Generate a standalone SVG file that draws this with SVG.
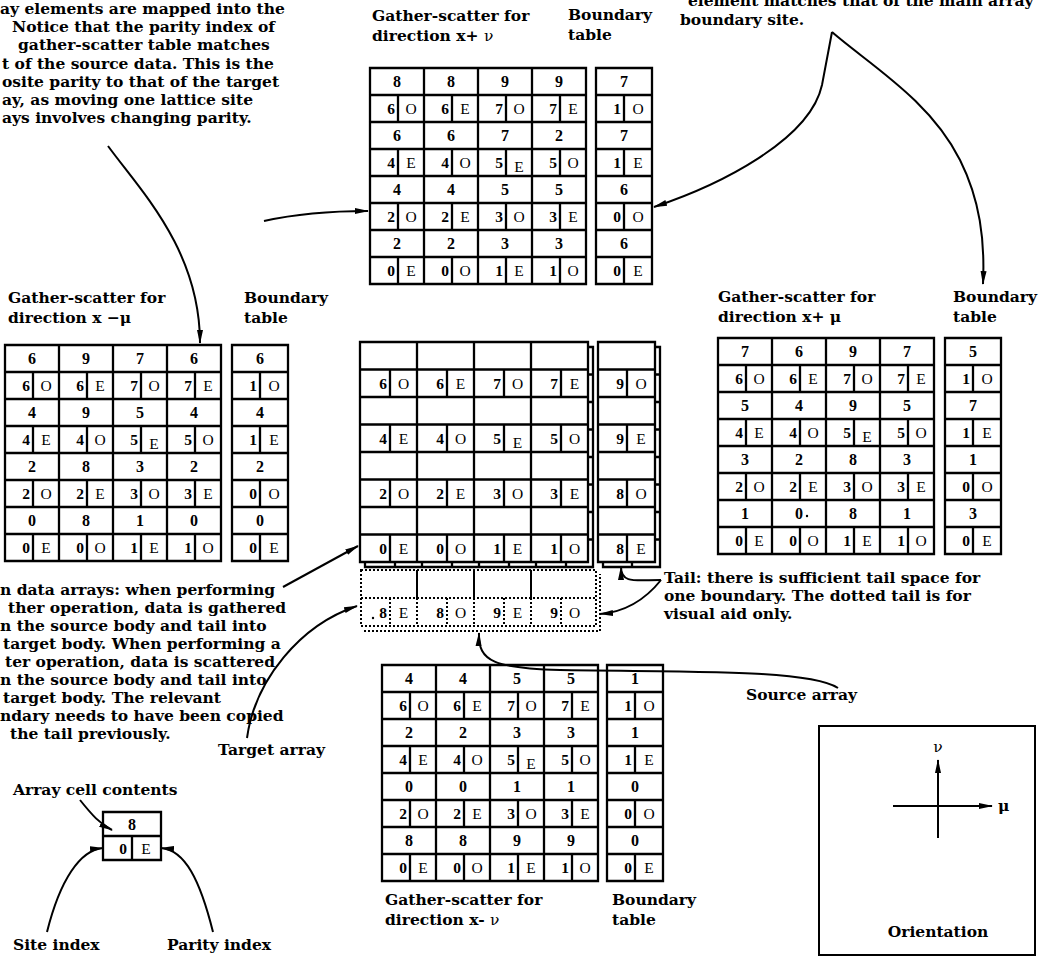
<svg xmlns="http://www.w3.org/2000/svg" xmlns:xlink="http://www.w3.org/1999/xlink" width="1049" height="963" viewBox="0 0 1049 963">
<style>
.t{font-family:"DejaVu Serif","Liberation Serif",serif;font-weight:bold;font-size:15.5px;fill:#000}
.g{font-family:"DejaVu Serif","Liberation Serif",serif;font-weight:normal}
.n{font-family:"Liberation Serif",serif;font-weight:bold;font-size:16px;text-anchor:middle;fill:#000}
.ix{font-family:"Liberation Serif",serif;font-weight:bold;font-size:15.5px;text-anchor:middle;fill:#000}
.lt{font-weight:normal}
.grid{fill:none;stroke:#000;stroke-width:2.3}
.dot{fill:none;stroke:#000;stroke-width:2;stroke-dasharray:2 2}
.c{fill:none;stroke:#000;stroke-width:2}
</style>
<defs>
<marker id="ah" viewBox="0 0 14 8" refX="13" refY="4" markerWidth="14" markerHeight="8" orient="auto" markerUnits="userSpaceOnUse"><path d="M0,1 L14,4 L0,7 Z" fill="#000"/></marker>
<path id="grid" class="grid" d="M0,0H216V216H0Z M0,27H216 M0,54H216 M0,81H216 M0,108H216 M0,135H216 M0,162H216 M0,189H216 M54,0V216 M108,0V216 M162,0V216 M28,27V54 M82,27V54 M136,27V54 M190,27V54 M28,81V108 M82,81V108 M136,81V108 M190,81V108 M28,135V162 M82,135V162 M136,135V162 M190,135V162 M28,189V216 M82,189V216 M136,189V216 M190,189V216"/>
<path id="bgrid" class="grid" d="M0,0H56V216H0Z M0,27H56 M0,54H56 M0,81H56 M0,108H56 M0,135H56 M0,162H56 M0,189H56 M28,27V54 M28,81V108 M28,135V162 M28,189V216"/>
<path id="cgrid" class="grid" d="M0,0H228V220H0Z M0,27.5H228 M0,55H228 M0,82.5H228 M0,110H228 M0,137.5H228 M0,165H228 M0,192.5H228 M57,0V220 M114,0V220 M171,0V220 M30,27.5V55 M87,27.5V55 M144,27.5V55 M201,27.5V55 M30,82.5V110 M87,82.5V110 M144,82.5V110 M201,82.5V110 M30,137.5V165 M87,137.5V165 M144,137.5V165 M201,137.5V165 M30,192.5V220 M87,192.5V220 M144,192.5V220 M201,192.5V220"/>
<path id="cbgrid" class="grid" d="M0,0H57V220H0Z M0,27.5H57 M0,55H57 M0,82.5H57 M0,110H57 M0,137.5H57 M0,165H57 M0,192.5H57 M29,27.5V55 M29,82.5V110 M29,137.5V165 M29,192.5V220"/>
</defs>
<rect width="1049" height="963" fill="#fff"/>

<g id="note-top-left" class="t">
<text x="0" y="14">ay elements are mapped into the</text>
<text x="12" y="32">Notice that the parity index of</text>
<text x="18" y="50">gather-scatter table matches</text>
<text x="2" y="69">t of the source data. This is the</text>
<text x="2" y="87">osite parity to that of the target</text>
<text x="2" y="105">ay, as moving one lattice site</text>
<text x="2" y="123">ays involves changing parity.</text>
</g>

<g id="note-top-right" class="t">
<text x="688" y="6">element matches that of the main array</text>
<text x="680" y="25">boundary site.</text>
</g>

<g id="table-xplusnu">
<text class="t" x="372" y="21">Gather-scatter for</text>
<text class="t" x="372" y="41">direction x+ <tspan class="g">ν</tspan></text>
<text class="t" x="568" y="20">Boundary</text>
<text class="t" x="568" y="40">table</text>
<g transform="translate(370,68)">
<use xlink:href="#grid"/><use xlink:href="#bgrid" x="226"/>
<text class="n" x="27 81 135 189 254" y="19">88997</text>
<text class="n" x="27 81 135 189 254" y="73">66727</text>
<text class="n" x="27 81 135 189 254" y="127">44556</text>
<text class="n" x="27 81 135 189 254" y="181">22336</text>
<text class="ix" y="46"><tspan x="21">6</tspan><tspan class="lt" x="41">O</tspan><tspan x="75">6</tspan><tspan class="lt" x="95">E</tspan><tspan x="129">7</tspan><tspan class="lt" x="149">O</tspan><tspan x="183">7</tspan><tspan class="lt" x="203">E</tspan><tspan x="247">1</tspan><tspan class="lt" x="268">O</tspan></text>
<text class="ix" y="100"><tspan x="21">4</tspan><tspan class="lt" x="41">E</tspan><tspan x="75">4</tspan><tspan class="lt" x="95">O</tspan><tspan x="129">5</tspan><tspan class="lt" x="149" y="104">E</tspan><tspan x="183" y="100">5</tspan><tspan class="lt" x="203">O</tspan><tspan x="247">1</tspan><tspan class="lt" x="268">E</tspan></text>
<text class="ix" y="154"><tspan x="21">2</tspan><tspan class="lt" x="41">O</tspan><tspan x="75">2</tspan><tspan class="lt" x="95">E</tspan><tspan x="129">3</tspan><tspan class="lt" x="149">O</tspan><tspan x="183">3</tspan><tspan class="lt" x="203">E</tspan><tspan x="247">0</tspan><tspan class="lt" x="268">O</tspan></text>
<text class="ix" y="208"><tspan x="21">0</tspan><tspan class="lt" x="41">E</tspan><tspan x="75">0</tspan><tspan class="lt" x="95">O</tspan><tspan x="129">1</tspan><tspan class="lt" x="149">E</tspan><tspan x="183">1</tspan><tspan class="lt" x="203">O</tspan><tspan x="247">0</tspan><tspan class="lt" x="268">E</tspan></text>
</g>
</g>

<g id="table-xminusmu">
<text class="t" x="8" y="303">Gather-scatter for</text>
<text class="t" x="8" y="323">direction x −μ</text>
<text class="t" x="244" y="303">Boundary</text>
<text class="t" x="244" y="323">table</text>
<g transform="translate(5,345)">
<use xlink:href="#grid"/><use xlink:href="#bgrid" x="227"/>
<text class="n" x="27 81 135 189 255" y="19">69766</text>
<text class="n" x="27 81 135 189 255" y="73">49544</text>
<text class="n" x="27 81 135 189 255" y="127">28322</text>
<text class="n" x="27 81 135 189 255" y="181">08100</text>
<text class="ix" y="46"><tspan x="21">6</tspan><tspan class="lt" x="41">O</tspan><tspan x="75">6</tspan><tspan class="lt" x="95">E</tspan><tspan x="129">7</tspan><tspan class="lt" x="149">O</tspan><tspan x="183">7</tspan><tspan class="lt" x="203">E</tspan><tspan x="248">1</tspan><tspan class="lt" x="269">O</tspan></text>
<text class="ix" y="100"><tspan x="21">4</tspan><tspan class="lt" x="41">E</tspan><tspan x="75">4</tspan><tspan class="lt" x="95">O</tspan><tspan x="129">5</tspan><tspan class="lt" x="149" y="104">E</tspan><tspan x="183" y="100">5</tspan><tspan class="lt" x="203">O</tspan><tspan x="248">1</tspan><tspan class="lt" x="269">E</tspan></text>
<text class="ix" y="154"><tspan x="21">2</tspan><tspan class="lt" x="41">O</tspan><tspan x="75">2</tspan><tspan class="lt" x="95">E</tspan><tspan x="129">3</tspan><tspan class="lt" x="149">O</tspan><tspan x="183">3</tspan><tspan class="lt" x="203">E</tspan><tspan x="248">0</tspan><tspan class="lt" x="269">O</tspan></text>
<text class="ix" y="208"><tspan x="21">0</tspan><tspan class="lt" x="41">E</tspan><tspan x="75">0</tspan><tspan class="lt" x="95">O</tspan><tspan x="129">1</tspan><tspan class="lt" x="149">E</tspan><tspan x="183">1</tspan><tspan class="lt" x="203">O</tspan><tspan x="248">0</tspan><tspan class="lt" x="269">E</tspan></text>
</g>
</g>

<g id="main-array" transform="translate(360,342)">
<use xlink:href="#cgrid" x="5" y="5"/>
<rect width="228" height="220" fill="#fff"/>
<use xlink:href="#cgrid"/>
<use xlink:href="#cbgrid" x="243" y="5"/>
<rect x="238" width="57" height="220" fill="#fff"/>
<use xlink:href="#cbgrid" x="238"/>
<text class="ix" y="47"><tspan x="23">6</tspan><tspan class="lt" x="43.5">O</tspan><tspan x="80">6</tspan><tspan class="lt" x="100.5">E</tspan><tspan x="137">7</tspan><tspan class="lt" x="157.5">O</tspan><tspan x="194">7</tspan><tspan class="lt" x="214.5">E</tspan><tspan x="260">9</tspan><tspan class="lt" x="281">O</tspan></text>
<text class="ix" y="102"><tspan x="23">4</tspan><tspan class="lt" x="43.5">E</tspan><tspan x="80">4</tspan><tspan class="lt" x="100.5">O</tspan><tspan x="137">5</tspan><tspan class="lt" x="157.5" y="106">E</tspan><tspan x="194" y="102">5</tspan><tspan class="lt" x="214.5">O</tspan><tspan x="260">9</tspan><tspan class="lt" x="281">E</tspan></text>
<text class="ix" y="157"><tspan x="23">2</tspan><tspan class="lt" x="43.5">O</tspan><tspan x="80">2</tspan><tspan class="lt" x="100.5">E</tspan><tspan x="137">3</tspan><tspan class="lt" x="157.5">O</tspan><tspan x="194">3</tspan><tspan class="lt" x="214.5">E</tspan><tspan x="260">8</tspan><tspan class="lt" x="281">O</tspan></text>
<text class="ix" y="212"><tspan x="23">0</tspan><tspan class="lt" x="43.5">E</tspan><tspan x="80">0</tspan><tspan class="lt" x="100.5">O</tspan><tspan x="137">1</tspan><tspan class="lt" x="157.5">E</tspan><tspan x="194">1</tspan><tspan class="lt" x="214.5">O</tspan><tspan x="260">8</tspan><tspan class="lt" x="281">E</tspan></text>
<g id="tail">
<path class="dot" d="M1,228H236V284H1Z M1,256H236 M57,256V284 M114,256V284 M171,256V284 M30,256V284 M87,256V284 M144,256V284 M201,256V284 M4,289H240V232"/>
<path class="c" d="M57,228V256 M114,228V256 M171,228V256"/>
<circle cx="13" cy="276" r="1.2" fill="#000"/>
<text class="ix" y="276"><tspan x="23">8</tspan><tspan class="lt" x="43.5">E</tspan><tspan x="80">8</tspan><tspan class="lt" x="100.5">O</tspan><tspan x="137">9</tspan><tspan class="lt" x="157.5">E</tspan><tspan x="194">9</tspan><tspan class="lt" x="214.5">O</tspan></text>
</g>
</g>

<g id="table-xplusmu">
<text class="t" x="718" y="302">Gather-scatter for</text>
<text class="t" x="718" y="322">direction x+ μ</text>
<text class="t" x="953" y="302">Boundary</text>
<text class="t" x="953" y="322">table</text>
<g transform="translate(718,338)">
<use xlink:href="#grid"/><use xlink:href="#bgrid" x="227"/>
<text class="n" x="27 81 135 189 255" y="19">76975</text>
<text class="n" x="27 81 135 189 255" y="73">54957</text>
<text class="n" x="27 81 135 189 255" y="127">32831</text>
<text class="n" x="27 81 135 189 255" y="181">10813</text>
<circle cx="89" cy="178" r="1.2" fill="#000"/>
<text class="ix" y="46"><tspan x="21">6</tspan><tspan class="lt" x="41">O</tspan><tspan x="75">6</tspan><tspan class="lt" x="95">E</tspan><tspan x="129">7</tspan><tspan class="lt" x="149">O</tspan><tspan x="183">7</tspan><tspan class="lt" x="203">E</tspan><tspan x="248">1</tspan><tspan class="lt" x="269">O</tspan></text>
<text class="ix" y="100"><tspan x="21">4</tspan><tspan class="lt" x="41">E</tspan><tspan x="75">4</tspan><tspan class="lt" x="95">O</tspan><tspan x="129">5</tspan><tspan class="lt" x="149" y="104">E</tspan><tspan x="183" y="100">5</tspan><tspan class="lt" x="203">O</tspan><tspan x="248">1</tspan><tspan class="lt" x="269">E</tspan></text>
<text class="ix" y="154"><tspan x="21">2</tspan><tspan class="lt" x="41">O</tspan><tspan x="75">2</tspan><tspan class="lt" x="95">E</tspan><tspan x="129">3</tspan><tspan class="lt" x="149">O</tspan><tspan x="183">3</tspan><tspan class="lt" x="203">E</tspan><tspan x="248">0</tspan><tspan class="lt" x="269">O</tspan></text>
<text class="ix" y="208"><tspan x="21">0</tspan><tspan class="lt" x="41">E</tspan><tspan x="75">0</tspan><tspan class="lt" x="95">O</tspan><tspan x="129">1</tspan><tspan class="lt" x="149">E</tspan><tspan x="183">1</tspan><tspan class="lt" x="203">O</tspan><tspan x="248">0</tspan><tspan class="lt" x="269">E</tspan></text>
</g>
</g>

<g id="table-xminusnu">
<g transform="translate(382,665)">
<use xlink:href="#grid"/><use xlink:href="#bgrid" x="225"/>
<text class="n" x="27 81 135 189 253" y="19">44551</text>
<text class="n" x="27 81 135 189 253" y="73">22331</text>
<text class="n" x="27 81 135 189 253" y="127">00110</text>
<text class="n" x="27 81 135 189 253" y="181">88990</text>
<text class="ix" y="46"><tspan x="21">6</tspan><tspan class="lt" x="41">O</tspan><tspan x="75">6</tspan><tspan class="lt" x="95">E</tspan><tspan x="129">7</tspan><tspan class="lt" x="149">O</tspan><tspan x="183">7</tspan><tspan class="lt" x="203">E</tspan><tspan x="246">1</tspan><tspan class="lt" x="267">O</tspan></text>
<text class="ix" y="100"><tspan x="21">4</tspan><tspan class="lt" x="41">E</tspan><tspan x="75">4</tspan><tspan class="lt" x="95">O</tspan><tspan x="129">5</tspan><tspan class="lt" x="149" y="104">E</tspan><tspan x="183" y="100">5</tspan><tspan class="lt" x="203">O</tspan><tspan x="246">1</tspan><tspan class="lt" x="267">E</tspan></text>
<text class="ix" y="154"><tspan x="21">2</tspan><tspan class="lt" x="41">O</tspan><tspan x="75">2</tspan><tspan class="lt" x="95">E</tspan><tspan x="129">3</tspan><tspan class="lt" x="149">O</tspan><tspan x="183">3</tspan><tspan class="lt" x="203">E</tspan><tspan x="246">0</tspan><tspan class="lt" x="267">O</tspan></text>
<text class="ix" y="208"><tspan x="21">0</tspan><tspan class="lt" x="41">E</tspan><tspan x="75">0</tspan><tspan class="lt" x="95">O</tspan><tspan x="129">1</tspan><tspan class="lt" x="149">E</tspan><tspan x="183">1</tspan><tspan class="lt" x="203">O</tspan><tspan x="246">0</tspan><tspan class="lt" x="267">E</tspan></text>
</g>
<text class="t" x="385" y="905">Gather-scatter for</text>
<text class="t" x="385" y="925">direction x- <tspan class="g">ν</tspan></text>
<text class="t" x="612" y="905">Boundary</text>
<text class="t" x="612" y="925">table</text>
</g>

<g id="note-data-arrays" class="t">
<text x="0" y="595">n data arrays: when performing</text>
<text x="8" y="613">ther operation, data is gathered</text>
<text x="0" y="631">n the source body and tail into</text>
<text x="3" y="649">target body. When performing a</text>
<text x="5" y="667">ter operation, data is scattered</text>
<text x="0" y="685">n the source body and tail into</text>
<text x="3" y="703">target body. The relevant</text>
<text x="0" y="721">ndary needs to have been copied</text>
<text x="10" y="739">the tail previously.</text>
</g>

<g id="note-tail" class="t">
<text x="664" y="583">Tail: there is sufficient tail space for</text>
<text x="664" y="601">one boundary. The dotted tail is for</text>
<text x="664" y="619">visual aid only.</text>
</g>

<g id="label-target"><text class="t" x="218" y="755">Target array</text></g>
<g id="label-source"><text class="t" x="746" y="700">Source array</text></g>

<g id="legend-cell">
<text class="t" x="13" y="795">Array cell contents</text>
<path class="grid" d="M103,812H161V860H103Z M103,836H161 M132,836V860"/>
<text class="n" x="132" y="830">8</text>
<text class="ix" y="854"><tspan x="123">0</tspan><tspan class="lt" x="146">E</tspan></text>
<text class="t" x="13" y="950">Site index</text>
<text class="t" x="167" y="950">Parity index</text>
</g>

<g id="orientation">
<rect x="819" y="726" width="216" height="229" fill="none" stroke="#000" stroke-width="2"/>
<line class="c" x1="938" y1="838" x2="938" y2="760" marker-end="url(#ah)"/>
<line class="c" x1="893" y1="806" x2="992" y2="806" marker-end="url(#ah)"/>
<text class="t" x="938" y="752" text-anchor="middle"><tspan class="g">ν</tspan></text>
<text class="t" x="998" y="811">μ</text>
<text class="t" x="938" y="937" text-anchor="middle">Orientation</text>
</g>

<g id="connectors" class="c">
<path d="M108,146 C140,190 200,250 200,343" marker-end="url(#ah)"/>
<path d="M264,221 C300,213 335,211 368,211" marker-end="url(#ah)"/>
<path d="M832,32 L822,85 C810,140 720,185 654,207" marker-end="url(#ah)"/>
<path d="M832,32 C870,65 930,100 960,160 C980,200 985,240 983,284" marker-end="url(#ah)"/>
<path d="M661,580 C636,580 621,584 621,567" marker-end="url(#ah)"/>
<path d="M661,580 C645,600 625,612 600,614" marker-end="url(#ah)"/>
<path d="M283,587 L358,546" marker-end="url(#ah)"/>
<path d="M247,738 C255,680 300,625 357,606" marker-end="url(#ah)"/>
<path d="M838,688 C810,670 700,672 560,670 C495,668 478,662 479,633" marker-end="url(#ah)"/>
<path d="M80,800 C92,815 100,824 112,830" marker-end="url(#ah)"/>
<path d="M47,932 C60,880 80,850 103,848" marker-end="url(#ah)"/>
<path d="M213,932 C200,880 185,850 161,848" marker-end="url(#ah)"/>
</g>
</svg>
